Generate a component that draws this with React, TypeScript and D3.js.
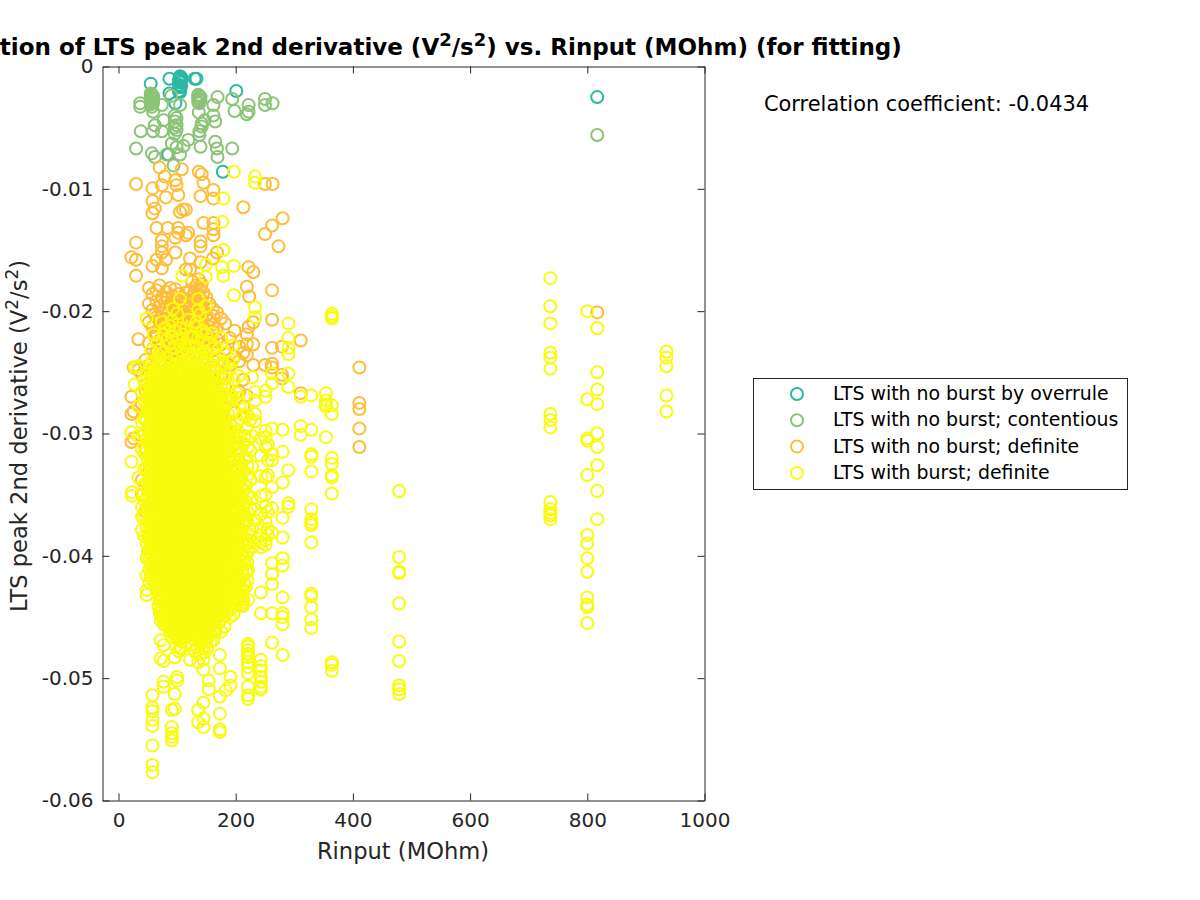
import React, { useEffect, useRef } from 'react';
import * as d3 from 'd3';

// y values are in units of 10^-3 V^2/s^2, grouped as [Rinput, [values...]]
type Column = [number, number[]];

const xTicks = [0, 200, 400, 600, 800, 1000];
const xTickLabels = ['0', '200', '400', '600', '800', '1000'];
const yTicks = [0, -10, -20, -30, -40, -50, -60];
const yTickLabels = ['0', '-0.01', '-0.02', '-0.03', '-0.04', '-0.05', '-0.06'];

const legendLabels = [
  'LTS with no burst by overrule',
  'LTS with no burst; contentious',
  'LTS with no burst; definite',
  'LTS with burst; definite',
];
const seriesColors = ['#2bb8a5', '#8bc377', '#febd38', '#f9fb0e'];

const overrule: Column[] = [
  [55, [-1.4]],
  [85, [-7.2]],
  [87, [-1, -2.2]],
  [97, [-3]],
  [103, [-1.1, -1.5, -2]],
  [105, [-0.8, -1, -1.3, -1.7, -2.1]],
  [107, [-0.9, -1.2, -1.6]],
  [130, [-1]],
  [133, [-1]],
  [178, [-8.6]],
  [201, [-2]],
  [817, [-2.5]],
];

const contentious: Column[] = [
  [30, [-6.7]],
  [37, [-3, -3.3]],
  [38, [-5.3]],
  [55, [-2.2, -2.5, -2.8, -3.1]],
  [57, [-2.3, -2.6, -2.9, -3.3, -7.1]],
  [59, [-2.4, -2.7, -3, -3.7, -5.3]],
  [62, [-4.8, -7.4]],
  [74, [-3.15, -5.3]],
  [77, [-4.4]],
  [82, [-7.2]],
  [90, [-2.4]],
  [91, [-6.3]],
  [94, [-8.1]],
  [96, [-4, -4.5, -5, -5.5]],
  [99, [-4.2, -4.8, -5.2, -6.6]],
  [105, [-3.15, -7.2]],
  [111, [-6.5]],
  [119, [-6]],
  [136, [-2.3, -2.6, -2.9]],
  [138, [-2.4, -2.7, -3, -5.3, -5.6]],
  [140, [-2.5, -2.8, -6.56]],
  [137, [-3.75]],
  [142, [-4.65, -4.9]],
  [147, [-4.4]],
  [162, [-3.15, -4]],
  [165, [-4.5, -6.15]],
  [168, [-6.7]],
  [169, [-2.5, -7.4]],
  [194, [-2.66, -6.7]],
  [198, [-3.64]],
  [219, [-3.9]],
  [222, [-3.15, -3.7]],
  [250, [-2.66, -3.15]],
  [263, [-3]],
  [817, [-5.6]],
];

const noBurst: Column[] = [
  [22, [-15.6, -27, -28.4, -30.7]],
  [26, [-24.6, -28.2, -30.4]],
  [30, [-9.6, -14.4, -15.8, -17.1]],
  [34, [-22.3, -24.5, -24.8]],
  [40, [-25.2, -27.6, -33.8, -35]],
  [46, [-24, -26.5, -31.2, -36.4]],
  [52, [-18.1, -19.4, -20.9, -22.6, -24.4, -26.3, -29.5, -33.2, -35.8]],
  [58, [-9.96, -11, -12, -16.3, -18.6, -19.9, -21.3, -23.1, -24.8, -27.4, -31, -34.6]],
  [62, [-11.6, -20.3, -22.1]],
  [65, [-13.2, -15.8, -18.3, -19.2, -20.5, -21.8, -23.4, -25.5]],
  [70, [-8.25, -17.9, -19.6, -20.8, -22.4, -24, -26.1]],
  [74, [-9.7, -14.2, -14.7, -15.2, -16.5, -18.9, -20.1, -21.2, -22.9, -24.6]],
  [79, [-9, -19.3, -20.7, -22.1, -23.6]],
  [81, [-10.7, -15.8, -18.4, -19.7, -20.6, -21.7, -23.3, -25]],
  [84, [-13.2, -18.9, -20.2, -21.4, -22.8]],
  [88, [-18.1, -19.4, -20.8, -22.3, -24]],
  [93, [-18.8, -19.9, -21.2, -22.5, -23.7]],
  [97, [-9.3, -14, -15.2, -18.2, -19.5, -20.6, -21.9, -23.2]],
  [99, [-9.7, -19.1, -20.3, -21.7, -22.9]],
  [102, [-10.5, -13.2, -13.6, -18.6, -19.7, -21, -22.4, -24.2]],
  [105, [-11.9, -19.2, -20.4, -21.5, -23]],
  [108, [-8.4, -18.9, -20, -21.2, -22.6]],
  [110, [-11.7, -19.4, -20.7, -22, -23.5]],
  [115, [-11.7, -13.8, -16.6, -18.5, -19.8, -21.1, -22.4]],
  [119, [-13.6, -19.1, -20.4, -21.7, -23]],
  [122, [-15.7, -16.6, -18.3, -19.6, -20.9, -22.2, -23.9]],
  [126, [-17.6, -18.8, -20.1, -21.4, -22.7]],
  [130, [-18.4, -19.7, -21, -22.3]],
  [133, [-17.9, -19.2, -20.5, -21.8, -23.3]],
  [137, [-8.6, -17.4, -18.7, -20, -21.3, -22.8]],
  [140, [-10.6, -14.3, -14.7, -16, -18.2, -19.5, -20.8, -22.1]],
  [142, [-8.8, -17.8, -19.1, -20.4, -21.8]],
  [145, [-9.5, -12.8, -18.5, -19.9, -21.2, -22.6]],
  [150, [-18.9, -20.3, -21.6, -23.1, -25.8]],
  [155, [-19.4, -20.8, -22.2, -24.6, -27.2]],
  [161, [-15.7, -19.8, -21.1, -22.5, -24, -26.4]],
  [162, [-10.1, -10.8, -12.8, -13.3, -13.8, -20.4, -21.7, -23.2]],
  [168, [-15.2, -20.1, -21.4, -22.3, -24.8, -27.9]],
  [175, [-20.6, -22.7, -25.3, -28.7]],
  [182, [-21, -23.1, -26.2, -29.6]],
  [190, [-22.2, -24.4, -27.1, -30.4]],
  [198, [-21.6, -23.7, -28.3]],
  [206, [-22.9, -24.1, -26.6]],
  [213, [-11.5, -23.4, -25.6, -27.8]],
  [219, [-18, -21.9, -22.7, -23.6, -26.9]],
  [222, [-16.4, -21.3]],
  [223, [-18.8]],
  [230, [-16.8, -20.9, -22.7, -24.4]],
  [250, [-9.6, -13.7, -24.4]],
  [262, [-13, -18.3, -20.7, -23, -24.3, -24.6]],
  [263, [-9.6]],
  [273, [-14.7]],
  [279, [-22.9, -25.2, -25.5]],
  [280, [-12.4]],
  [311, [-22.4, -26.7]],
  [411, [-24.6, -27.5, -28, -29.6, -31.1]],
  [817, [-20.1]],
];

const burst: Column[] = [
  [22, [-29.9, -32.3]],
  [23, [-34.8, -35.1]],
  [28, [-26, -24.6]],
  [34, [-24.5, -27.8, -30.2, -33.6]],
  [40, [-26.6, -29.1, -31.3, -36, -36.8, -37.9]],
  [44, [-25.7, -27.3, -28.8, -30.1, -31.6, -32.9, -34.2, -35.5, -36.7, -38.4]],
  [48, [-20.6, -25.2, -26.5, -27.8, -28.9, -30.4, -31.5, -32.8, -34, -35.3, -36.4, -37.7, -39, -40.2, -41.6, -42.8, -43.2]],
  [53, [-24.7, -25.8, -26.6, -27.5, -28.4, -29.2, -30.1, -30.9, -31.8, -32.6, -33.5, -34.3, -35.2, -36, -36.9, -37.7, -38.6, -39.4, -40.3, -41.1, -42.2]],
  [58, [-25.2, -26, -26.9, -27.7, -28.6, -29.4, -30.3, -31.1, -32, -32.8, -33.7, -34.5, -35.4, -36.2, -37.1, -37.9, -38.8, -39.6, -40.5, -41.4, -51.4, -52.4, -52.7, -53.4, -53.9, -55.5, -57.1, -57.7]],
  [63, [-24.8, -25.6, -26.4, -27.2, -28, -28.9, -29.7, -30.5, -31.3, -32.2, -33, -33.8, -34.6, -35.5, -36.3, -37.1, -37.9, -38.8, -39.6, -40.4, -41.3, -42.3]],
  [68, [-23.6, -24.9, -25.8, -26.7, -27.5, -28.3, -29.1, -29.9, -30.8, -31.6, -32.4, -33.2, -34.1, -34.9, -35.7, -36.5, -37.4, -38.2, -39, -39.8, -40.7, -41.5, -42.4, -43.2, -44.1]],
  [72, [-23.1, -24.3, -25.4, -26.2, -27.1, -27.9, -28.7, -29.5, -30.3, -31.2, -32, -32.8, -33.6, -34.5, -35.3, -36.1, -36.9, -37.8, -38.6, -39.4, -40.2, -41.1, -41.9, -42.7, -43.6, -44.5, -45.3, -46.9, -48.4]],
  [77, [-21.9, -23.4, -24.6, -25.7, -26.5, -27.4, -28.2, -29, -29.8, -30.7, -31.5, -32.3, -33.1, -34, -34.8, -35.6, -36.4, -37.3, -38.1, -38.9, -39.7, -40.6, -41.4, -42.2, -43, -43.9, -44.8, -45.6, -47.3, -48.6, -50.3, -50.7]],
  [82, [-22.4, -23.8, -25.1, -26, -26.8, -27.7, -28.5, -29.3, -30.1, -31, -31.8, -32.6, -33.4, -34.3, -35.1, -35.9, -36.7, -37.6, -38.4, -39.2, -40, -40.9, -41.7, -42.5, -43.3, -44.2, -45, -45.7]],
  [87, [-21.2, -22.7, -24.2, -25.4, -26.3, -27.1, -27.9, -28.8, -29.6, -30.4, -31.2, -32.1, -32.9, -33.7, -34.5, -35.4, -36.2, -37, -37.8, -38.7, -39.5, -40.3, -41.1, -42, -42.8, -43.6, -44.4, -45.3, -46.1]],
  [91, [-20.8, -22.1, -23.5, -24.8, -25.9, -26.7, -27.5, -28.4, -29.2, -30, -30.8, -31.7, -32.5, -33.3, -34.1, -35, -35.8, -36.6, -37.4, -38.3, -39.1, -39.9, -40.7, -41.6, -42.4, -43.2, -44, -44.9, -45.7, -52.6, -54, -54.5, -54.8, -55.1]],
  [96, [-21.6, -23, -24.4, -25.6, -26.4, -27.3, -28.1, -28.9, -29.7, -30.6, -31.4, -32.2, -33, -33.9, -34.7, -35.5, -36.3, -37.2, -38, -38.8, -39.6, -40.5, -41.3, -42.1, -42.9, -43.8, -44.6, -45.4, -46.2, -48.3, -51.3, -52.5]],
  [100, [-20.2, -22.3, -23.8, -25, -26.1, -26.9, -27.7, -28.6, -29.4, -30.2, -31, -31.9, -32.7, -33.5, -34.3, -35.2, -36, -36.8, -37.6, -38.5, -39.3, -40.1, -40.9, -41.8, -42.6, -43.4, -44.2, -45.1, -45.9, -46.5, -49.9, -50.2]],
  [105, [-19, -21.4, -22.8, -24.2, -25.5, -26.3, -27.2, -28, -28.8, -29.6, -30.5, -31.3, -32.1, -32.9, -33.8, -34.6, -35.4, -36.2, -37.1, -37.9, -38.7, -39.5, -40.4, -41.2, -42, -42.8, -43.7, -44.5, -45.3, -46.2, -47.5]],
  [109, [-17.1, -21.9, -23.3, -24.7, -25.8, -26.7, -27.5, -28.3, -29.1, -30, -30.8, -31.6, -32.4, -33.3, -34.1, -34.9, -35.7, -36.6, -37.4, -38.2, -39, -39.9, -40.7, -41.5, -42.3, -43.2, -44, -44.8, -45.6, -46.4]],
  [114, [-22.6, -24, -25.3, -26.2, -27, -27.8, -28.7, -29.5, -30.3, -31.1, -32, -32.8, -33.6, -34.4, -35.3, -36.1, -36.9, -37.7, -38.6, -39.4, -40.2, -41, -41.9, -42.7, -43.5, -44.3, -45.2, -46]],
  [118, [-23.2, -24.6, -25.7, -26.6, -27.4, -28.2, -29, -29.9, -30.7, -31.5, -32.3, -33.2, -34, -34.8, -35.6, -36.5, -37.3, -38.1, -38.9, -39.8, -40.6, -41.4, -42.2, -43.1, -43.9, -44.7, -45.5, -46.4]],
  [122, [-22.1, -24.3, -25.4, -26.2, -27.1, -27.9, -28.7, -29.5, -30.4, -31.2, -32, -32.8, -33.7, -34.5, -35.3, -36.1, -37, -37.8, -38.6, -39.4, -40.3, -41.1, -41.9, -42.7, -43.6, -44.4, -45.2, -46, -48.5]],
  [127, [-23.5, -25, -25.9, -26.7, -27.6, -28.4, -29.2, -30, -30.9, -31.7, -32.5, -33.3, -34.2, -35, -35.8, -36.6, -37.5, -38.3, -39.1, -39.9, -40.8, -41.6, -42.4, -43.2, -44.1, -44.9, -45.7, -46.5]],
  [131, [-21.3, -23, -24.5, -25.6, -26.4, -27.3, -28.1, -28.9, -29.7, -30.6, -31.4, -32.2, -33, -33.9, -34.7, -35.5, -36.3, -37.2, -38, -38.8, -39.6, -40.5, -41.3, -42.1, -42.9, -43.8, -44.6, -45.4, -46.2]],
  [136, [-19, -19.9, -22.2, -23.7, -25.1, -26, -26.8, -27.7, -28.5, -29.3, -30.1, -31, -31.8, -32.6, -33.4, -34.3, -35.1, -35.9, -36.7, -37.6, -38.4, -39.2, -40, -40.9, -41.7, -42.5, -43.3, -44.2, -45, -45.8, -48.7, -52.6, -53.6]],
  [141, [-21.7, -24.1, -25.5, -26.4, -27.2, -28, -28.9, -29.7, -30.5, -31.3, -32.2, -33, -33.8, -34.6, -35.5, -36.3, -37.1, -37.9, -38.8, -39.6, -40.4, -41.2, -42.1, -42.9, -43.7, -44.5, -45.4, -46.2, -47]],
  [145, [-22.6, -24.8, -25.9, -26.7, -27.5, -28.4, -29.2, -30, -30.8, -31.7, -32.5, -33.3, -34.1, -35, -35.8, -36.6, -37.4, -38.3, -39.1, -39.9, -40.7, -41.6, -42.4, -43.2, -44, -44.9, -45.7, -46.5, -48.5, -49.3, -52, -53.3, -54]],
  [149, [-16.2, -17.2, -19.6, -23.4, -25.3, -26.2, -27, -27.9, -28.7, -29.5, -30.3, -31.2, -32, -32.8, -33.6, -34.5, -35.3, -36.1, -36.9, -37.8, -38.6, -39.4, -40.2, -41.1, -41.9, -42.7, -43.5, -44.4, -45.2, -46]],
  [154, [-24.2, -25.6, -26.6, -27.4, -28.2, -29.1, -29.9, -30.7, -31.5, -32.4, -33.2, -34, -34.8, -35.7, -36.5, -37.3, -38.1, -39, -39.8, -40.6, -41.4, -42.3, -43.1, -43.9, -44.7, -45.5, -46.3, -50.2, -50.9]],
  [159, [-23.8, -25.1, -26.1, -27, -27.8, -28.6, -29.5, -30.3, -31.1, -31.9, -32.8, -33.6, -34.4, -35.2, -36.1, -36.9, -37.7, -38.5, -39.4, -40.2, -41, -41.8, -42.7, -43.5, -44.3, -45.2]],
  [164, [-24.6, -26.8, -27.7, -28.5, -29.3, -30.2, -31, -31.8, -32.6, -33.5, -34.3, -35.1, -35.9, -36.8, -37.6, -38.4, -39.2, -40.1, -40.9, -41.7, -42.5, -43.4, -44.2, -45, -46.1]],
  [169, [-25.9, -27.4, -28.3, -29.1, -30, -30.8, -31.6, -32.4, -33.3, -34.1, -34.9, -35.7, -36.6, -37.4, -38.2, -39, -39.9, -40.7, -41.5, -42.3, -43.2, -44, -44.8]],
  [173, [-26.9, -28, -28.9, -29.8, -30.6, -31.5, -32.3, -33.1, -34, -34.8, -35.6, -36.5, -37.3, -38.1, -39, -39.8, -40.6, -41.5, -42.3, -43.1, -44, -48.1, -49.2, -51.5, -52.9, -54.2, -54.4]],
  [177, [-12.7, -16.4, -27.6, -28.8, -30.1, -31.2, -32.4, -33.5, -34.6, -35.8, -36.9, -38, -39.2, -40.3, -41.4, -42.6, -43.7, -44.5]],
  [179, [-10.8, -15, -17.1, -24.3, -26.8, -29.4, -30.7, -31.9, -33, -34.2, -35.3, -36.4, -37.6, -38.7, -39.8, -41, -42.1, -43.2]],
  [183, [-25.2, -27.7, -30, -31.2, -32.6, -33.9, -35.1, -36.2, -37.5, -38.8, -40, -41.2, -42.4, -43.6, -44.3, -51]],
  [187, [-26.1, -28.4, -30.9, -32.1, -33.3, -34.7, -35.9, -37.1, -38.3, -39.5, -40.7, -41.9, -43.1]],
  [191, [-24.7, -27, -29.3, -31.5, -32.9, -34.1, -35.4, -36.6, -37.9, -39.1, -40.3, -41.6, -42.8, -44.4, -49.9, -50.6]],
  [197, [-8.6, -16.3, -18.7, -25.6, -28.1, -30.3, -32.2, -33.6, -34.9, -36.3, -37.6, -38.8, -40.1, -41.4, -42.7, -44]],
  [202, [-26.7, -29.2, -31.2, -32.8, -34.3, -35.6, -37, -38.3, -39.7, -41, -42.3, -43.5]],
  [207, [-27.6, -30.2, -32.3, -33.9, -35.3, -36.8, -38.1, -39.4, -40.8, -42.1, -43.2]],
  [213, [-28.5, -30.9, -33.1, -34.7, -36.1, -37.5, -38.9, -40.2, -41.6, -43.5, -43.8, -44]],
  [218, [-29.6, -32, -34.2, -35.6, -37.2, -38.7, -40, -41.3, -42.5]],
  [221, [-31.1, -33.4, -36.5, -38.2, -39.6, -41.2, -43.6, -47.2, -47.4, -47.7, -48, -48.3, -48.7, -49.1, -49.6, -50.7, -51.4, -51.7]],
  [228, [-25.4, -30.2, -32.7, -35.3, -37.8, -39.3]],
  [233, [-9, -9.5, -19.7, -20.5, -26.6, -27.3, -28.4, -29, -36.2, -37.1]],
  [243, [-30.4, -31.8, -33.5, -35.1, -36.6, -37.7, -38.3, -38.9, -39.3, -43, -44.7, -48.5, -49, -49.4, -49.9, -50.3, -50.7, -50.9]],
  [251, [-26.5, -27, -29.8, -30.3, -31.1, -33.6, -35, -36, -37.2, -38.7, -39.1]],
  [255, [-30.9, -32.2, -33.4, -36.4, -37.8, -38.3]],
  [262, [-25.1, -25.9, -29.6, -31.7, -32.2, -34.4, -36.1, -38.1, -40.6, -41.5, -42.3, -44.7, -47.1]],
  [280, [-29.7, -31.5, -34, -36.9, -38.5, -40.2, -40.8, -43.4, -44.7, -45, -45.6, -48.1]],
  [290, [-21, -22.2, -23, -23.5, -25.1, -26.2, -33, -35.7, -36]],
  [311, [-27, -29.4, -30.1]],
  [329, [-26.9, -29.7, -31.7, -31.9, -33.1, -36.2, -37, -37.3, -37.5, -38.9, -43.1, -43.3, -44.2, -45.2, -45.9]],
  [354, [-26.7, -27.3, -27.6, -27.8, -30.3]],
  [364, [-20.2, -20.4, -20.6, -27.7, -28.4, -32, -32.5, -33.4, -33.6, -34.9, -48.7, -48.9, -49.4]],
  [479, [-34.7, -40.1, -41.3, -41.4, -43.9, -47, -48.6, -50.6, -50.9, -51.3]],
  [737, [-17.3, -19.6, -21, -23.4, -23.8, -24.7, -28.4, -28.9, -29.5, -35.6, -36.2, -36.5, -36.7, -37]],
  [800, [-20, -27.2, -30.4, -30.6, -33.4, -38.3, -39, -40.2, -41.3, -43.4, -44, -44.2, -45.5]],
  [817, [-21.4, -25, -26.4, -27.6, -30, -31.1, -32.6, -34.7, -37]],
  [935, [-23.3, -23.8, -24.5, -26.9, -28.2]],
];

// the part of the burst series where the rings pile into a solid block
const burstCore: Column[] = [
  [50, [-27.1, -28.2, -29.6, -30.7, -32.1, -33.2, -34.6, -35.8, -37.2, -38.3, -39.7]],
  [55, [-25.4, -26.3, -27.1, -28, -28.8, -29.7, -30.5, -31.4, -32.2, -33.1, -33.9, -34.8, -35.6, -36.5, -37.3, -38.2, -39, -39.9, -40.7, -41.7]],
  [60, [-25.6, -26.5, -27.3, -28.2, -29, -29.9, -30.7, -31.6, -32.4, -33.3, -34.1, -35, -35.8, -36.7, -37.5, -38.4, -39.2, -40.1, -41, -42]],
  [65, [-25.2, -26.1, -26.9, -27.7, -28.5, -29.3, -30.1, -30.9, -31.8, -32.6, -33.4, -34.2, -35.1, -35.9, -36.7, -37.5, -38.4, -39.2, -40, -40.9, -41.8, -42.8]],
  [70, [-25.3, -26.2, -27.1, -27.9, -28.7, -29.5, -30.4, -31.2, -32, -32.8, -33.7, -34.5, -35.3, -36.1, -37, -37.8, -38.6, -39.4, -40.3, -41.1, -41.9, -42.8, -43.7, -44.6]],
  [75, [-25, -25.9, -26.8, -27.6, -28.4, -29.2, -30.1, -30.9, -31.7, -32.5, -33.4, -34.2, -35, -35.8, -36.7, -37.5, -38.3, -39.1, -40, -40.8, -41.6, -42.4, -43.3, -44.2, -45]],
  [80, [-25.5, -26.3, -27.2, -28, -28.9, -29.7, -30.5, -31.3, -32.2, -33, -33.8, -34.6, -35.5, -36.3, -37.1, -37.9, -38.8, -39.6, -40.4, -41.2, -42.1, -42.9, -43.7, -44.6, -45.4]],
  [85, [-24.8, -25.7, -26.6, -27.4, -28.2, -29.1, -29.9, -30.7, -31.5, -32.4, -33.2, -34, -34.8, -35.7, -36.5, -37.3, -38.1, -39, -39.8, -40.6, -41.4, -42.3, -43.1, -43.9, -44.8, -45.6]],
  [89, [-25.1, -26, -26.9, -27.7, -28.5, -29.4, -30.2, -31, -31.8, -32.7, -33.5, -34.3, -35.1, -36, -36.8, -37.6, -38.4, -39.3, -40.1, -40.9, -41.7, -42.6, -43.4, -44.2, -45, -45.9]],
  [94, [-24.5, -25.8, -26.6, -27.4, -28.3, -29.1, -29.9, -30.7, -31.6, -32.4, -33.2, -34, -34.9, -35.7, -36.5, -37.3, -38.2, -39, -39.8, -40.6, -41.5, -42.3, -43.1, -43.9, -44.8, -45.6, -46.4]],
  [98, [-24.9, -26.2, -27, -27.8, -28.7, -29.5, -30.3, -31.1, -32, -32.8, -33.6, -34.4, -35.3, -36.1, -36.9, -37.7, -38.6, -39.4, -40.2, -41, -41.9, -42.7, -43.5, -44.3, -45.2, -46]],
  [103, [-24.6, -25.7, -26.5, -27.4, -28.2, -29, -29.8, -30.7, -31.5, -32.3, -33.1, -34, -34.8, -35.6, -36.4, -37.3, -38.1, -38.9, -39.7, -40.6, -41.4, -42.2, -43, -43.9, -44.7, -45.5, -46.3]],
  [107, [-25.1, -26, -26.9, -27.7, -28.5, -29.3, -30.2, -31, -31.8, -32.6, -33.5, -34.3, -35.1, -35.9, -36.8, -37.6, -38.4, -39.2, -40.1, -40.9, -41.7, -42.5, -43.4, -44.2, -45, -45.9]],
  [112, [-24.4, -25.6, -26.4, -27.3, -28.1, -28.9, -29.7, -30.6, -31.4, -32.2, -33, -33.9, -34.7, -35.5, -36.3, -37.2, -38, -38.8, -39.6, -40.5, -41.3, -42.1, -42.9, -43.8, -44.6, -45.4, -46.2]],
  [116, [-25, -25.9, -26.8, -27.6, -28.4, -29.3, -30.1, -30.9, -31.7, -32.6, -33.4, -34.2, -35, -35.9, -36.7, -37.5, -38.3, -39.2, -40, -40.8, -41.6, -42.5, -43.3, -44.1, -44.9, -45.8]],
  [120, [-24.7, -25.6, -26.5, -27.3, -28.1, -28.9, -29.8, -30.6, -31.4, -32.2, -33.1, -33.9, -34.7, -35.5, -36.4, -37.2, -38, -38.8, -39.7, -40.5, -41.3, -42.1, -43, -43.8, -44.6, -45.4, -46.3]],
  [125, [-25.2, -26, -26.9, -27.7, -28.6, -29.4, -30.2, -31, -31.9, -32.7, -33.5, -34.3, -35.2, -36, -36.8, -37.6, -38.5, -39.3, -40.1, -40.9, -41.8, -42.6, -43.4, -44.2, -45.1, -45.9]],
  [129, [-24.8, -25.7, -26.6, -27.4, -28.2, -29, -29.9, -30.7, -31.5, -32.3, -33.2, -34, -34.8, -35.6, -36.5, -37.3, -38.1, -38.9, -39.8, -40.6, -41.4, -42.2, -43.1, -43.9, -44.7, -45.5, -46.4]],
  [134, [-24.3, -25.5, -26.3, -27.2, -28, -28.8, -29.6, -30.5, -31.3, -32.1, -32.9, -33.8, -34.6, -35.4, -36.2, -37.1, -37.9, -38.7, -39.5, -40.4, -41.2, -42, -42.8, -43.7, -44.5, -45.3, -46.1]],
  [139, [-24.9, -25.9, -26.7, -27.6, -28.4, -29.2, -30, -30.9, -31.7, -32.5, -33.3, -34.2, -35, -35.8, -36.6, -37.5, -38.3, -39.1, -39.9, -40.8, -41.6, -42.4, -43.2, -44.1, -44.9, -45.7, -46.6]],
  [143, [-25.3, -26.2, -27.1, -27.9, -28.7, -29.6, -30.4, -31.2, -32, -32.9, -33.7, -34.5, -35.3, -36.2, -37, -37.8, -38.6, -39.5, -40.3, -41.1, -41.9, -42.8, -43.6, -44.4, -45.2, -46.1]],
  [147, [-25, -25.8, -26.6, -27.5, -28.3, -29.1, -29.9, -30.8, -31.6, -32.4, -33.2, -34.1, -34.9, -35.7, -36.5, -37.4, -38.2, -39, -39.8, -40.7, -41.5, -42.3, -43.1, -44, -44.8, -45.6, -46.4]],
  [152, [-25.4, -26.3, -27.2, -28, -28.8, -29.6, -30.5, -31.3, -32.1, -32.9, -33.8, -34.6, -35.4, -36.2, -37.1, -37.9, -38.7, -39.5, -40.4, -41.2, -42, -42.8, -43.7, -44.5, -45.3, -46]],
  [157, [-25.7, -26.5, -27.4, -28.2, -29, -29.8, -30.7, -31.5, -32.3, -33.1, -34, -34.8, -35.6, -36.4, -37.3, -38.1, -38.9, -39.7, -40.6, -41.4, -42.2, -43, -43.9, -44.7, -45.6]],
  [162, [-26.2, -27.1, -27.9, -28.8, -29.6, -30.4, -31.2, -32.1, -32.9, -33.7, -34.5, -35.4, -36.2, -37, -37.8, -38.7, -39.5, -40.3, -41.1, -42, -42.8, -43.6, -44.5, -45.4]],
  [166, [-26.9, -27.8, -28.7, -29.5, -30.3, -31.1, -32, -32.8, -33.6, -34.4, -35.3, -36.1, -36.9, -37.7, -38.6, -39.4, -40.2, -41, -41.9, -42.7, -43.5, -44.4]],
  [171, [-27.5, -28.5, -29.4, -30.2, -31.1, -31.9, -32.7, -33.6, -34.4, -35.2, -36.1, -36.9, -37.7, -38.6, -39.4, -40.2, -41.1, -41.9, -42.7, -43.6]],
  [175, [-28.3, -29.2, -30.4, -31.4, -32.2, -33.2, -34.3, -35.3, -36.3, -37.2, -38.3, -39.3, -40.4, -41.3, -42.4, -43.4]],
  [181, [-28.9, -30.4, -31.7, -33, -34.4, -35.6, -36.7, -38.1, -39.4, -40.6, -41.8, -43]],
  [185, [-29.5, -31.5, -33.1, -34.5, -35.4, -36.8, -38.6, -39.9, -41.3, -42.6]],
  [189, [-30.3, -32.3, -34, -35.6, -36.9, -38.6, -40.2, -41.3, -42.9]],
  [195, [-31, -32.7, -34.3, -35.7, -37.1, -38.4, -39.6, -41, -42.3, -43.4]],
  [200, [-30.8, -33.2, -35, -36.4, -37.8, -39.1, -40.6, -41.8, -43]],
  [205, [-31.7, -33.6, -35.8, -37.4, -38.9, -40.3, -41.7, -42.8]],
  [210, [-32.6, -34.5, -36.6, -38.4, -39.9, -41.2, -42.6]],
];

// scattered burst rings around the solid block: above it, right of it, under it
const burstFringe: Column[] = [
  [56, [-23.2, -24.2]],
  [60, [-21.9, -24.1]],
  [66, [-22.6, -23.8]],
  [74, [-20.9]],
  [80, [-21.4]],
  [93, [-19.8]],
  [98, [-46.7, -47.4]],
  [103, [-46.9, -47.8]],
  [107, [-47, -47.6]],
  [112, [-46.8]],
  [115, [-21.4, -23]],
  [118, [-47.1]],
  [120, [-20.7, -22.9]],
  [124, [-47.3]],
  [126, [-22.1]],
  [130, [-46.9, -47.8]],
  [133, [-20.9, -22.9]],
  [134, [-47.5]],
  [139, [-20.3, -23.5, -47.2, -48]],
  [143, [-47.6]],
  [144, [-21.6, -23.9]],
  [147, [-47, -47.9]],
  [150, [-21.9, -24.2]],
  [152, [-46.7, -47.5]],
  [155, [-22.6, -24.7]],
  [157, [-46.3, -47]],
  [160, [-21.8, -23.1]],
  [162, [-46.1, -46.9]],
  [165, [-22.9, -25]],
  [166, [-45.3, -46.2]],
  [170, [-23.6, -25.3]],
  [171, [-44.6, -45.5]],
  [175, [-22.2, -24.5, -26, -44.2, -45.2, -46.2]],
  [178, [-30.6, -31.9, -33.2, -34.5, -35.9, -37.3, -38.6, -39.9, -41.2, -42.4, -43.5]],
  [181, [-44, -44.9, -45.8]],
  [182, [-23.4, -25.5, -27.2]],
  [185, [-43.6, -44.6]],
  [188, [-24.2, -26.8]],
  [190, [-44, -45]],
  [193, [-29.8, -31.2, -32.7, -33.8, -35.1, -36.4, -37.3, -38.8, -39.9, -41.1, -42.5]],
  [195, [-22.8, -24, -27]],
  [196, [-44.8]],
  [198, [-33, -34.5, -36, -37.3, -38.5, -39.9, -41.2, -43]],
  [204, [-29.9, -32.9, -34.7, -36.2, -37.7, -39.2, -40.7, -42.2, -43.8]],
  [205, [-25.3, -27.1, -43.6]],
  [209, [-28.8, -31.4, -33.6, -35.2, -36.9, -38.4, -39.8, -41.4, -44.1]],
  [212, [-42.9, -44.1]],
  [215, [-27.9, -30.2, -32.1, -34.2, -35.8, -37.3, -39.1, -40.7, -42.3]],
  [220, [-28.5, -30.5, -32.7, -35, -37.1, -39, -40.5, -42]],
  [225, [-28.9, -31.4, -33.8, -36.1, -38.4]],
];

const allSeries = [overrule, contentious, noBurst, [...burst, ...burstCore, ...burstFringe]];

const font = '"DejaVu Sans", sans-serif';
const inkColor = '#262626';

const App: React.FC = () => {
  const plotRef = useRef<SVGGElement | null>(null);

  useEffect(() => {
    const plot = d3.select(plotRef.current);
    plot.selectAll('*').remove();

    const left = 102.5;
    const right = 704.5;
    const top = 66.5;
    const bottom = 800.5;

    const xScale = d3.scaleLinear().domain([-27.3, 1000]).range([left, right]);
    const yScale = d3.scaleLinear().domain([-60, 0]).range([bottom, top]);

    // points first, the axes sit on top of them
    allSeries.forEach((columns, i) => {
      const points = columns.flatMap(([x, ys]) => ys.map((y) => [x, y] as [number, number]));
      plot
        .append('g')
        .selectAll('circle')
        .data(points)
        .join('circle')
        .attr('cx', (d) => xScale(d[0]))
        .attr('cy', (d) => yScale(d[1]))
        .attr('r', 6)
        .attr('fill', 'none')
        .attr('stroke', seriesColors[i])
        .attr('stroke-width', 2);
    });

    const styleAxis = (g: d3.Selection<SVGGElement, unknown, null, undefined>) => {
      g.attr('font-family', font).attr('font-size', 20);
      g.selectAll('path').attr('stroke', inkColor).attr('stroke-width', 1);
      g.selectAll('line').attr('stroke', inkColor).attr('stroke-width', 1);
      g.selectAll('text').attr('fill', inkColor);
    };

    const xLabel = (_: d3.NumberValue, i: number) => xTickLabels[i];
    const yLabel = (_: d3.NumberValue, i: number) => yTickLabels[i];

    plot
      .append('g')
      .attr('transform', `translate(0,${bottom})`)
      .call(d3.axisBottom(xScale).tickValues(xTicks).tickFormat(xLabel).tickSizeInner(-7).tickSizeOuter(0).tickPadding(12))
      .call(styleAxis);
    plot
      .append('g')
      .attr('transform', `translate(${left},0)`)
      .call(d3.axisLeft(yScale).tickValues(yTicks).tickFormat(yLabel).tickSizeInner(-7).tickSizeOuter(0).tickPadding(9))
      .call(styleAxis);
    plot
      .append('g')
      .attr('transform', `translate(0,${top})`)
      .call(d3.axisTop(xScale).tickValues(xTicks).tickFormat(() => '').tickSizeInner(-7).tickSizeOuter(0))
      .call(styleAxis);
    plot
      .append('g')
      .attr('transform', `translate(${right},0)`)
      .call(d3.axisRight(yScale).tickValues(yTicks).tickFormat(() => '').tickSizeInner(-7).tickSizeOuter(0))
      .call(styleAxis);

    // legend
    const legend = plot.append('g');
    legend
      .append('rect')
      .attr('x', 753.5)
      .attr('y', 378.5)
      .attr('width', 374)
      .attr('height', 111)
      .attr('fill', 'white')
      .attr('stroke', inkColor)
      .attr('stroke-width', 1);
    legendLabels.forEach((label, i) => {
      const rowY = 394 + i * 26.3;
      legend
        .append('circle')
        .attr('cx', 797)
        .attr('cy', rowY)
        .attr('r', 6)
        .attr('fill', 'none')
        .attr('stroke', seriesColors[i])
        .attr('stroke-width', 2);
      legend
        .append('text')
        .attr('x', 833)
        .attr('y', rowY + 6)
        .attr('font-family', font)
        .attr('font-size', 18.9)
        .attr('fill', 'black')
        .text(label);
    });
  }, []);

  return (
    <svg width={1200} height={900} style={{ position: 'absolute', left: 0, top: 0, background: 'white' }}>
      <g ref={plotRef} />
      <text x={399} y={55} textAnchor="middle" fontFamily={font} fontSize={23} fontWeight="bold" fill="black">
        Distribution of LTS peak 2nd derivative (V<tspan dy={-9} fontSize={18}>2</tspan>
        <tspan dy={9}>/s</tspan>
        <tspan dy={-9} fontSize={18}>2</tspan>
        <tspan dy={9}>) vs. Rinput (MOhm) (for fitting)</tspan>
      </text>
      <text x={764} y={111} fontFamily={font} fontSize={20.9} fill="black">
        Correlation coefficient: -0.0434
      </text>
      <text x={403} y={859} textAnchor="middle" fontFamily={font} fontSize={22.6} fill={inkColor}>
        Rinput (MOhm)
      </text>
      <text
        transform="translate(27,436) rotate(-90)"
        textAnchor="middle"
        fontFamily={font}
        fontSize={22.6}
        fill={inkColor}
      >
        LTS peak 2nd derivative (V<tspan dy={-9} fontSize={17}>2</tspan>
        <tspan dy={9}>/s</tspan>
        <tspan dy={-9} fontSize={17}>2</tspan>
        <tspan dy={9}>)</tspan>
      </text>
    </svg>
  );
};

export default App;
